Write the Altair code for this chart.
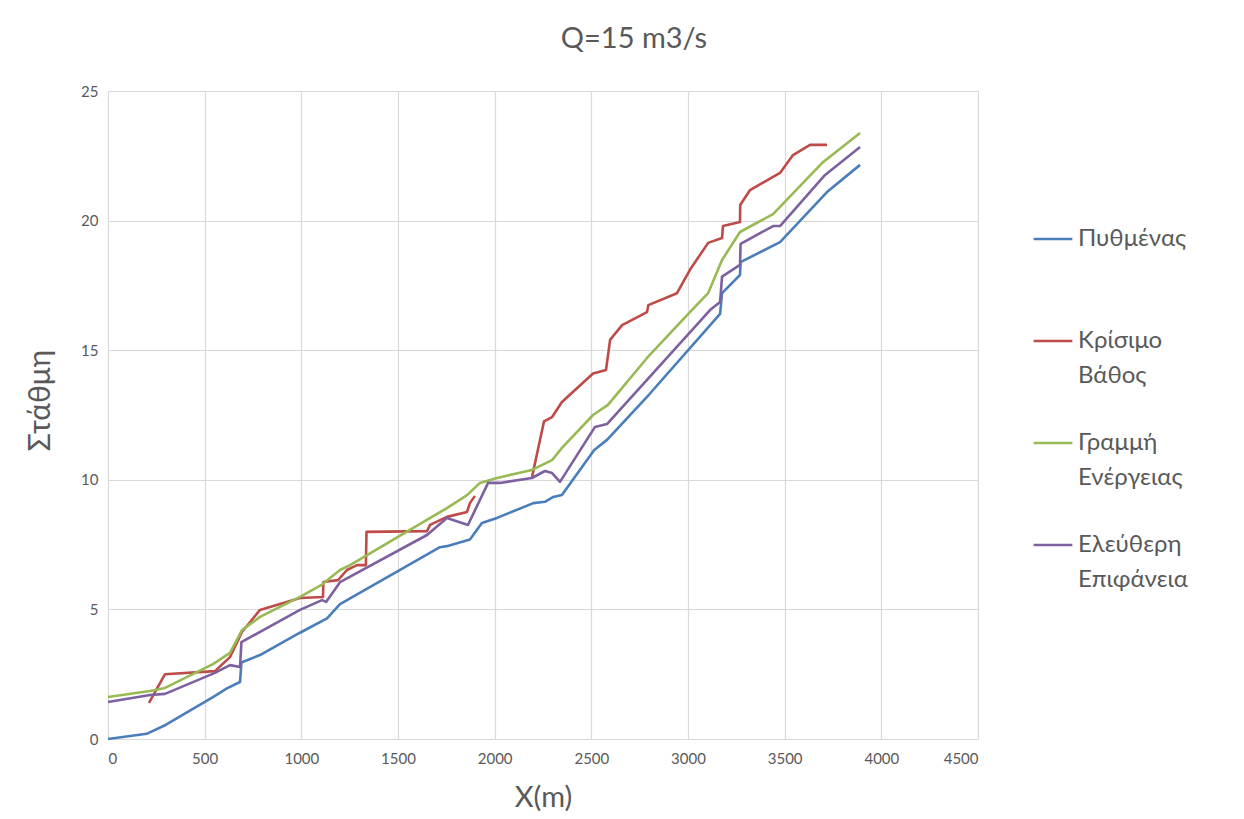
import altair as alt
import pandas as pd

# Channel bed (Πυθμένας)
x_bed = [0, 200, 300, 543, 615, 683, 690, 786, 993, 1133, 1200, 1717, 1753, 1872, 1934,
         2012, 2200, 2260, 2303, 2348, 2515, 2581, 2800, 3166, 3176, 3269, 3272, 3476,
         3719, 3890]
y_bed = [0.0, 0.2, 0.55, 1.62, 1.95, 2.2, 2.95, 3.24, 4.1, 4.65, 5.2, 7.4, 7.44, 7.7, 8.33,
         8.53, 9.1, 9.15, 9.34, 9.41, 11.15, 11.54, 13.3, 16.4, 17.2, 17.9, 18.4, 19.17,
         21.1, 22.15]

# Critical depth (Κρίσιμο Βάθος), two separate reaches
x_crit_a = [212, 295, 553, 631, 693, 786, 993, 1112, 1114, 1190, 1236, 1288, 1334, 1337,
            1650, 1666, 1753, 1857, 1872, 1898]
y_crit_a = [1.39, 2.5, 2.62, 3.16, 4.13, 4.98, 5.44, 5.48, 6.06, 6.13, 6.52, 6.71, 6.71,
            7.99, 8.02, 8.26, 8.57, 8.76, 9.1, 9.38]
x_crit_b = [2193, 2255, 2297, 2348, 2509, 2576, 2597, 2659, 2788, 2795, 2943, 3010, 3104,
            3176, 3181, 3269, 3270, 3321, 3476, 3543, 3631, 3719]
y_crit_b = [10.1, 12.25, 12.42, 13.0, 14.1, 14.24, 15.4, 15.97, 16.47, 16.74, 17.2, 18.1,
            19.14, 19.33, 19.79, 19.95, 20.6, 21.18, 21.84, 22.53, 22.92, 22.92]

# Energy line (Γραμμή Ενέργειας)
x_energy = [0, 217, 295, 543, 631, 693, 786, 993, 1107, 1200, 1252, 1753, 1857, 1924, 2012,
            2193, 2297, 2348, 2509, 2586, 2788, 3010, 3104, 3176, 3269, 3440, 3693, 3890]
y_energy = [1.62, 1.85, 1.97, 2.89, 3.32, 4.2, 4.71, 5.48, 5.96, 6.52, 6.71, 8.91, 9.41,
            9.88, 10.07, 10.38, 10.76, 11.23, 12.5, 12.89, 14.7, 16.47, 17.2, 18.48, 19.56,
            20.25, 22.22, 23.38]

# Free surface (Ελεύθερη Επιφάνεια)
x_surf = [0, 217, 295, 553, 631, 683, 690, 993, 1107, 1128, 1200, 1650, 1753, 1862, 1966,
          2028, 2193, 2260, 2297, 2338, 2519, 2581, 3114, 3166, 3176, 3269, 3272, 3440,
          3476, 3709, 3890]
y_surf = [1.43, 1.7, 1.74, 2.55, 2.85, 2.78, 3.74, 4.98, 5.36, 5.29, 6.05, 7.87, 8.53, 8.26,
          9.88, 9.88, 10.07, 10.34, 10.26, 9.92, 12.04, 12.15, 16.55, 16.86, 17.84, 18.29,
          19.1, 19.79, 19.79, 21.76, 22.84]

series_names = ["Πυθμένας", "Κρίσιμο Βάθος", "Γραμμή Ενέργειας", "Ελεύθερη Επιφάνεια"]
series_colors = ["#4A7EBB", "#BE4B48", "#98B954", "#7D60A0"]

rows = []
for name, seg, xs, ys in [
    (series_names[0], "bed", x_bed, y_bed),
    (series_names[1], "crit_a", x_crit_a, y_crit_a),
    (series_names[1], "crit_b", x_crit_b, y_crit_b),
    (series_names[2], "energy", x_energy, y_energy),
    (series_names[3], "surf", x_surf, y_surf),
]:
    for i, (xv, yv) in enumerate(zip(xs, ys)):
        rows.append({"series": name, "seg": seg, "x": xv, "y": yv, "i": i})
df = pd.DataFrame(rows)

FONT = "Lato"
GREY = "#595959"

chart = (
    alt.Chart(df)
    .mark_line(strokeWidth=2.6, strokeJoin="round")
    .encode(
        x=alt.X(
            "x:Q",
            scale=alt.Scale(domain=[0, 4500], nice=False),
            axis=alt.Axis(
                title="X(m)",
                values=list(range(0, 4501, 500)),
                format="d",
                grid=True,
                domain=False,
                ticks=False,
                labelPadding=5,
                titleY=58,
                titleBaseline="middle",
                titleFontSize=29,
            ),
        ),
        y=alt.Y(
            "y:Q",
            scale=alt.Scale(domain=[0, 25], nice=False),
            axis=alt.Axis(
                title="Στάθμη",
                values=[0, 5, 10, 15, 20, 25],
                format="d",
                grid=True,
                domain=False,
                ticks=False,
                labelPadding=10,
                labelOffset=-7,
                titleX=-68,
                titleY=309,
                titleBaseline="middle",
                titleFontSize=30,
            ),
        ),
        color=alt.Color(
            "series:N",
            scale=alt.Scale(domain=series_names, range=series_colors),
            legend=alt.Legend(
                title=None,
                orient="none",
                legendX=924,
                legendY=127,
                symbolType="stroke",
                symbolSize=1500,
                symbolStrokeWidth=2.6,
                labelFontSize=24,
                labelFont=FONT,
                labelColor=GREY,
                labelOffset=4,
                labelBaseline="alphabetic",
                labelExpr="split(datum.label, ' ')",
                labelLimit=300,
                rowPadding=34,
                gridAlign="all",
                padding=0,
            ),
        ),
        detail="seg:N",
        order="i:Q",
    )
    .properties(
        width=870,
        height=648,
        title=alt.TitleParams(
            "Q=15 m3/s",
            fontSize=29,
            font=FONT,
            fontWeight="normal",
            color=GREY,
            dx=91,
            offset=30,
        ),
        autosize=alt.AutoSizeParams(type="none"),
        padding={"left": 108, "top": 91, "right": 266, "bottom": 80},
    )
    .configure(
        background="white",
        style={"guide-label": {"lineHeight": 35, "dy": 7}},
    )
    .configure_view(stroke=None)
    .configure_axis(
        gridColor="#D9D9D9",
        gridWidth=1.2,
        labelFont=FONT,
        labelFontSize=15,
        labelColor=GREY,
        titleFont=FONT,
        titleColor=GREY,
        titleFontWeight="normal",
    )
)

chart.save("out.html", embed_options={"renderer": "svg", "actions": False})
